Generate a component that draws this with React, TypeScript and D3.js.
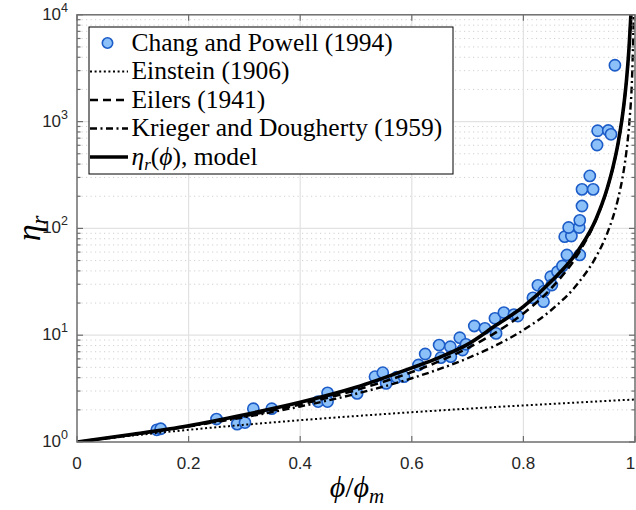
import React from 'react';
import * as d3 from 'd3';

// ---------- data ----------
const X_TICKS = [0, 0.2, 0.4, 0.6, 0.8, 1];
const X_TICK_LABELS = ['0', '0.2', '0.4', '0.6', '0.8', '1'];
const Y_TICKS = [1, 10, 100, 1000, 10000];
const Y_TICK_EXP = ['0', '1', '2', '3', '4'];

// Chang and Powell (1994) measurements: phi/phi_m and eta_r
const changPhi = [
  0.143, 0.150, 0.250, 0.287, 0.301, 0.316, 0.349, 0.432, 0.449, 0.449,
  0.502, 0.534, 0.548, 0.554, 0.573, 0.586, 0.612, 0.624, 0.649, 0.652,
  0.669, 0.670, 0.686, 0.691, 0.697, 0.712, 0.731, 0.749, 0.751, 0.765,
  0.783, 0.790, 0.817, 0.826, 0.836, 0.837, 0.849, 0.851, 0.861, 0.870,
  0.878, 0.901, 0.874, 0.886, 0.881, 0.900, 0.901, 0.905, 0.905, 0.925,
  0.919, 0.933, 0.952, 0.957, 0.932, 0.964,
];
const changEta = [
  1.30, 1.33, 1.64, 1.47, 1.52, 2.05, 2.05, 2.39, 2.89, 2.39,
  2.85, 4.09, 4.46, 3.54, 4.04, 4.09, 5.26, 6.67, 8.09, 6.16,
  7.80, 6.29, 9.48, 7.27, 8.22, 12.2, 11.6, 14.4, 10.4, 16.3,
  15.6, 15.1, 22.4, 29.3, 20.6, 25.9, 35.3, 29.5, 39.3, 44.5,
  56.4, 56.4, 83.6, 84.9, 102, 102, 119, 162, 232, 232,
  310, 821, 825, 760, 604, 3370,
];

// Einstein (1906)
const einsteinPhi = [0, 0.1, 0.2, 0.3, 0.4, 0.5, 0.6, 0.7, 0.8, 0.9, 1.0];
const einsteinEta = [1, 1.15, 1.3, 1.45, 1.6, 1.75, 1.9, 2.05, 2.2, 2.35, 2.5];

// Shared abscissae for the other curves
const curvePhi = [0, 0.1, 0.2, 0.3, 0.4, 0.5, 0.6, 0.65, 0.7, 0.75, 0.8, 0.85, 0.9, 0.93, 0.95, 0.96, 0.97, 0.98, 0.985, 0.99, 0.995, 0.998];
// Eilers (1941)
const eilersEta = [1, 1.174, 1.41, 1.746, 2.25, 3.063, 4.516, 5.726, 7.563, 10.56, 16, 27.56, 60.06, 120.2, 232.6, 361, 637.6, 1425, 2525, 5663, 22575, 140800];
// Krieger and Dougherty (1959)
const kdEta = [1, 1.171, 1.398, 1.708, 2.152, 2.828, 3.953, 4.83, 6.086, 8, 11.18, 17.21, 31.62, 54.0, 89.44, 125, 192.5, 353.6, 544.3, 1000, 2828, 11180];
// eta_r(phi), model
const modelEta = [1, 1.18, 1.42, 1.8, 2.35, 3.25, 4.95, 6.2, 8.2, 12.3, 18.5, 32, 64, 122, 235, 365, 640, 1430, 2530, 5660, 22600, 140000];

const LEGEND_LABELS = ['Chang and Powell (1994)', 'Einstein (1906)', 'Eilers (1941)', 'Krieger and Dougherty (1959)'];

// ---------- styling ----------
const SERIF = "'Liberation Serif', 'DejaVu Serif', serif";
const SANS = "'Liberation Sans', Arial, sans-serif";
const AXIS_COLOR = '#262626';
const BOX_COLOR = '#6e6e6e';
const MARKER_FILL = '#8cc0f8';
const MARKER_STROKE = '#1c5cc8';

const DOTTED = '2 2.6';
const DASHED = '8 5';
const DASHDOT = '7 3.5 2 3.5';

export default function App() {
  const W = 636, H = 510;
  const L = 77, R = 635, T = 14.8, B = 442;
  const x = d3.scaleLinear().domain([0, 1]).range([L, R]);
  const y = d3.scaleLog().domain([1, 1e4]).range([B, T]);

  const minorY: number[] = [];
  for (let d = 0; d < 4; d++) for (let k = 2; k <= 9; k++) minorY.push(k * Math.pow(10, d));

  const mkLine = (xs: number[], ys: number[]) =>
    d3.line<number>()
      .x((_, i) => x(xs[i]))
      .y((v) => y(v))
      .curve(d3.curveMonotoneX)(ys) || '';

  const legendRowY = [43, 71.5, 100, 128.5, 157];
  const legendTextX = 131.5;
  const lx0 = 90, lx1 = 128;

  return (
    <svg width={W} height={H} style={{ position: 'fixed', left: 0, top: 0, background: '#fff' }}>
      <defs>
        <clipPath id="plotClip">
          <rect x={L} y={T} width={R - L} height={B - T} />
        </clipPath>
      </defs>
      <rect x={0} y={0} width={W} height={H} fill="#fff" />

      {/* minor grid (y) */}
      {minorY.map((v) => (
        <line key={'mg' + v} x1={L} x2={R} y1={y(v)} y2={y(v)} stroke="#c4c4c4" strokeWidth={0.8} strokeDasharray="1.2 3.3" />
      ))}
      {/* major grid */}
      {Y_TICKS.slice(1, -1).map((v) => (
        <line key={'gy' + v} x1={L} x2={R} y1={y(v)} y2={y(v)} stroke="#e2e2e2" strokeWidth={1.2} />
      ))}
      {X_TICKS.slice(1, -1).map((v) => (
        <line key={'gx' + v} x1={x(v)} x2={x(v)} y1={T} y2={B} stroke="#e2e2e2" strokeWidth={1.2} />
      ))}

      <g clipPath="url(#plotClip)">
        {/* data points */}
        {changPhi.map((p, i) => (
          <circle key={'pt' + i} cx={x(p)} cy={y(changEta[i])} r={5.6} fill={MARKER_FILL} stroke={MARKER_STROKE} strokeWidth={1.6} />
        ))}
        {/* curves */}
        <path d={mkLine(einsteinPhi, einsteinEta)} fill="none" stroke="#000" strokeWidth={2} strokeDasharray={DOTTED} />
        <path d={mkLine(curvePhi, kdEta)} fill="none" stroke="#000" strokeWidth={2.4} strokeDasharray={DASHDOT} />
        <path d={mkLine(curvePhi, eilersEta)} fill="none" stroke="#000" strokeWidth={2.6} strokeDasharray={DASHED} />
        <path d={mkLine(curvePhi, modelEta)} fill="none" stroke="#000" strokeWidth={3.6} />
      </g>

      {/* axes box */}
      <rect x={L} y={T} width={R - L} height={B - T} fill="none" stroke={BOX_COLOR} strokeWidth={1.5} />
      {/* y ticks */}
      {Y_TICKS.map((v) => (
        <g key={'yt' + v}>
          <line x1={L} x2={L + 6} y1={y(v)} y2={y(v)} stroke={BOX_COLOR} strokeWidth={1.2} />
          <line x1={R} x2={R - 6} y1={y(v)} y2={y(v)} stroke={BOX_COLOR} strokeWidth={1.2} />
        </g>
      ))}
      {minorY.map((v) => (
        <g key={'ymt' + v}>
          <line x1={L} x2={L + 3.5} y1={y(v)} y2={y(v)} stroke={BOX_COLOR} strokeWidth={1.2} />
          <line x1={R} x2={R - 3.5} y1={y(v)} y2={y(v)} stroke={BOX_COLOR} strokeWidth={1.2} />
        </g>
      ))}
      {X_TICKS.map((v) => (
        <g key={'xt' + v}>
          <line x1={x(v)} x2={x(v)} y1={B} y2={B - 6} stroke={BOX_COLOR} strokeWidth={1.2} />
          <line x1={x(v)} x2={x(v)} y1={T} y2={T + 6} stroke={BOX_COLOR} strokeWidth={1.2} />
        </g>
      ))}

      {/* tick labels */}
      {X_TICKS.map((v, i) => (
        <text key={'xl' + v} x={Math.min(x(v), 630.5)} y={468.5} textAnchor="middle" fontFamily={SANS} fontSize={17} fill={AXIS_COLOR}>
          {X_TICK_LABELS[i]}
        </text>
      ))}
      {Y_TICKS.map((v, i) => (
        <text key={'yl' + v} x={68} y={y(v) + 5} textAnchor="end" fontFamily={SANS} fontSize={17} fill={AXIS_COLOR}>
          10<tspan dy={-8} fontSize={12.5}>{Y_TICK_EXP[i]}</tspan>
        </text>
      ))}

      {/* axis labels */}
      <text x={357} y={497} textAnchor="middle" fontFamily={SERIF} fontSize={30} fill="#000">
        <tspan fontStyle="italic">ϕ</tspan>/<tspan fontStyle="italic">ϕ</tspan><tspan fontStyle="italic" fontSize={21} dy={6}>m</tspan>
      </text>
      <text transform={`translate(40, ${(T + B) / 2}) rotate(-90)`} textAnchor="middle" fontFamily={SERIF} fontSize={34} fill="#000">
        <tspan fontStyle="italic">η</tspan><tspan fontStyle="italic" fontSize={23} dy={7}>r</tspan>
      </text>

      {/* legend */}
      <rect x={89} y={27} width={364} height={147} fill="#fff" stroke="#000" strokeWidth={1} />
      <circle cx={107.5} cy={legendRowY[0]} r={5.2} fill={MARKER_FILL} stroke={MARKER_STROKE} strokeWidth={1.6} />
      <line x1={lx0} x2={lx1} y1={legendRowY[1]} y2={legendRowY[1]} stroke="#000" strokeWidth={2} strokeDasharray={DOTTED} />
      <line x1={lx0} x2={lx1} y1={legendRowY[2]} y2={legendRowY[2]} stroke="#000" strokeWidth={2.6} strokeDasharray={DASHED} />
      <line x1={lx0} x2={lx1} y1={legendRowY[3]} y2={legendRowY[3]} stroke="#000" strokeWidth={2.4} strokeDasharray={DASHDOT} />
      <line x1={lx0} x2={lx1} y1={legendRowY[4]} y2={legendRowY[4]} stroke="#000" strokeWidth={3.6} />
      {LEGEND_LABELS.map((lab, i) => (
        <text key={'lg' + i} x={legendTextX} y={legendRowY[i] + 7.5} fontFamily={SERIF} fontSize={25.5} fill="#000">
          {lab}
        </text>
      ))}
      <text x={legendTextX} y={legendRowY[4] + 7.5} fontFamily={SERIF} fontSize={25.5} fill="#000">
        <tspan fontStyle="italic">η</tspan>
        <tspan fontStyle="italic" fontSize={17} dy={5}>r</tspan>
        <tspan dy={-5}>(</tspan>
        <tspan fontStyle="italic">ϕ</tspan>
        <tspan>), model</tspan>
      </text>
    </svg>
  );
}
